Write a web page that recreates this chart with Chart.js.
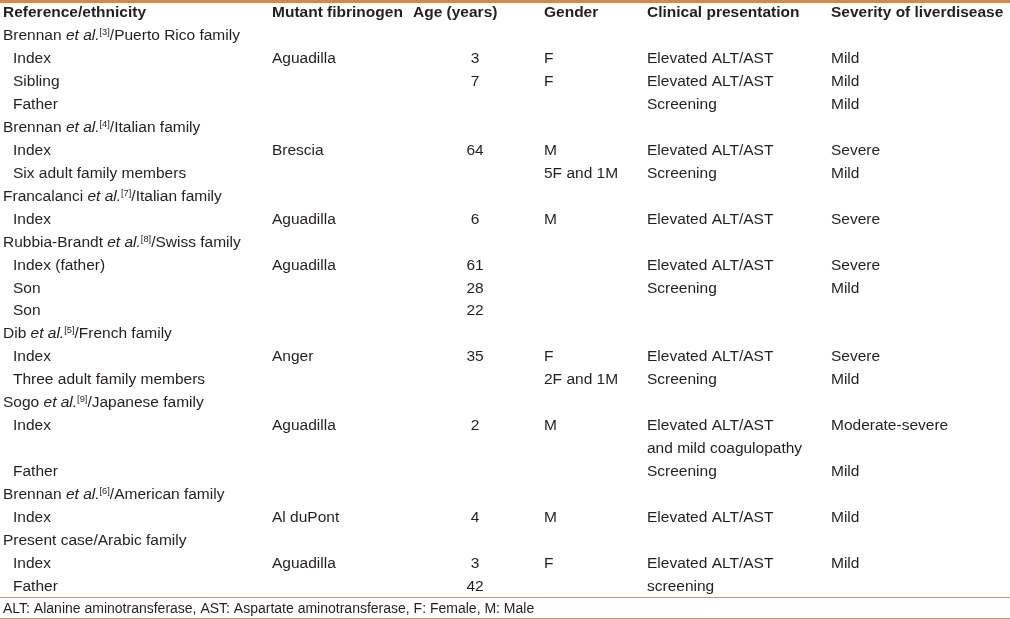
<!DOCTYPE html>
<html>
<head>
<meta charset="utf-8">
<script src="https://cdn.jsdelivr.net/npm/chart.js@4.4.0/dist/chart.umd.min.js"></script>
<style>
  html, body { margin: 0; padding: 0; background: #fff; }
  #tbl { display: block; }
</style>
</head>
<body>
<canvas id="tbl" width="1010" height="619"></canvas>
<script>
// Table content, one entry per printed line
const headers = ["Reference/ethnicity", "Mutant fibrinogen", "Age (years)", "Gender", "Clinical presentation", "Severity of liverdisease"];

const subjects = [
    "Brennan et al.[3]/Puerto Rico family", "Index", "Sibling", "Father",
    "Brennan et al.[4]/Italian family", "Index", "Six adult family members",
    "Francalanci et al.[7]/Italian family", "Index",
    "Rubbia-Brandt et al.[8]/Swiss family", "Index (father)", "Son", "Son",
    "Dib et al.[5]/French family", "Index", "Three adult family members",
    "Sogo et al.[9]/Japanese family", "Index", "", "Father",
    "Brennan et al.[6]/American family", "Index",
    "Present case/Arabic family", "Index", "Father"
];
const groupRows = [0, 4, 7, 9, 13, 16, 20, 22];
const mutants = ["", "Aguadilla", "", "", "", "Brescia", "", "", "Aguadilla", "", "Aguadilla", "", "", "", "Anger", "", "", "Aguadilla", "", "", "", "Al duPont", "", "Aguadilla", ""];
const ages = ["", "3", "7", "", "", "64", "", "", "6", "", "61", "28", "22", "", "35", "", "", "2", "", "", "", "4", "", "3", "42"];
const genders = ["", "F", "F", "", "", "M", "5F and 1M", "", "M", "", "", "", "", "", "F", "2F and 1M", "", "M", "", "", "", "M", "", "F", ""];
const presentations = ["", "Elevated ALT/AST", "Elevated ALT/AST", "Screening", "", "Elevated ALT/AST", "Screening", "", "Elevated ALT/AST", "", "Elevated ALT/AST", "Screening", "", "", "Elevated ALT/AST", "Screening", "", "Elevated ALT/AST", "and mild coagulopathy", "Screening", "", "Elevated ALT/AST", "", "Elevated ALT/AST", "screening"];
const severities = ["", "Mild", "Mild", "Mild", "", "Severe", "Mild", "", "Severe", "", "Severe", "Mild", "", "", "Severe", "Mild", "", "Moderate-severe", "", "Mild", "", "Mild", "", "Mild", ""];
const footnote = "ALT: Alanine aminotransferase, AST: Aspartate aminotransferase, F: Female, M: Male";

// layout bits
const colX = [3, 272, 475, 544, 647, 831];
const headX = [3, 272, 413, 544, 647, 831];
const colAlign = ["left", "left", "center", "left", "left", "left"];
const FONT = "'Liberation Sans', Arial, sans-serif";
const SIZE = 15.5;
const INK = "#231f20";

const columns = [subjects, mutants, ages, genders, presentations, severities];

const datasets = columns.map((col, c) => ({
    label: headers[c],
    data: col.map((txt, i) => ({ x: colX[c], y: i + 1 })),
    texts: col,
    col: c
}));
datasets.push({ label: "header", data: headers.map((h, c) => ({ x: headX[c], y: 0 })), texts: headers, header: true });
datasets.push({ label: "footnote", data: [{ x: 3, y: 26 }], texts: [footnote], foot: true });

// draws "Name et al.[n]/rest" with italic and superscript parts
function drawRich(ctx, str, x, y) {
    const parts = str.split(/(et al\.|\[\d+\])/).filter(s => s.length);
    parts.forEach(p => {
        if (p === "et al.") {
            ctx.font = `italic ${SIZE}px ${FONT}`;
            ctx.fillText(p, x, y);
        } else if (/^\[\d+\]$/.test(p)) {
            ctx.font = `${SIZE * 0.6}px ${FONT}`;
            ctx.fillText(p, x, y - 5);
        } else {
            ctx.font = `${SIZE}px ${FONT}`;
            ctx.fillText(p, x, y);
        }
        x += ctx.measureText(p).width;
    });
}

const tablePlugin = {
    id: 'tableText',
    beforeDatasetsDraw(chart) {
        const { ctx, scales: { y }, width } = chart;
        ctx.save();
        ctx.fillStyle = "#cf8a4f";
        ctx.fillRect(0, y.getPixelForValue(-0.52), width, 3);
        ctx.fillStyle = "#c4976a";
        ctx.fillRect(0, Math.round(y.getPixelForValue(25.5)), width, 1);
        ctx.fillRect(0, Math.round(y.getPixelForValue(26.43)), width, 1);
        ctx.restore();
    },
    afterDatasetsDraw(chart) {
        const { ctx } = chart;
        ctx.save();
        ctx.fillStyle = INK;
        ctx.textBaseline = "alphabetic";
        chart.data.datasets.forEach((ds, d) => {
            const meta = chart.getDatasetMeta(d);
            meta.data.forEach((pt, i) => {
                const txt = ds.texts[i];
                if (!txt) return;
                const base = pt.y + 5.5;
                if (ds.header) {
                    ctx.font = `bold ${SIZE}px ${FONT}`;
                    ctx.textAlign = "left";
                    ctx.fillText(txt, pt.x, base);
                } else if (ds.foot) {
                    ctx.font = `14px ${FONT}`;
                    ctx.textAlign = "left";
                    ctx.fillText(txt, pt.x, pt.y + 5);
                } else if (ds.col === 0) {
                    ctx.textAlign = "left";
                    if (groupRows.includes(i)) drawRich(ctx, txt, pt.x, base);
                    else { ctx.font = `${SIZE}px ${FONT}`; ctx.fillText(txt, pt.x + 10, base); }
                } else {
                    ctx.font = `${SIZE}px ${FONT}`;
                    ctx.textAlign = colAlign[ds.col];
                    ctx.fillText(txt, pt.x, base);
                }
            });
        });
        ctx.restore();
    }
};

new Chart(document.getElementById('tbl').getContext('2d'), {
    type: 'scatter',
    data: { datasets },
    options: {
        responsive: false,
        animation: false,
        devicePixelRatio: 1,
        layout: { padding: 0 },
        elements: { point: { radius: 0, hoverRadius: 0 } },
        scales: {
            x: { type: 'linear', display: false, min: 0, max: 1010 },
            y: { type: 'linear', display: false, min: -0.52, max: 26.48, reverse: true }
        },
        plugins: { legend: { display: false }, tooltip: { enabled: false } }
    },
    plugins: [tablePlugin]
});
</script>
</body>
</html>
